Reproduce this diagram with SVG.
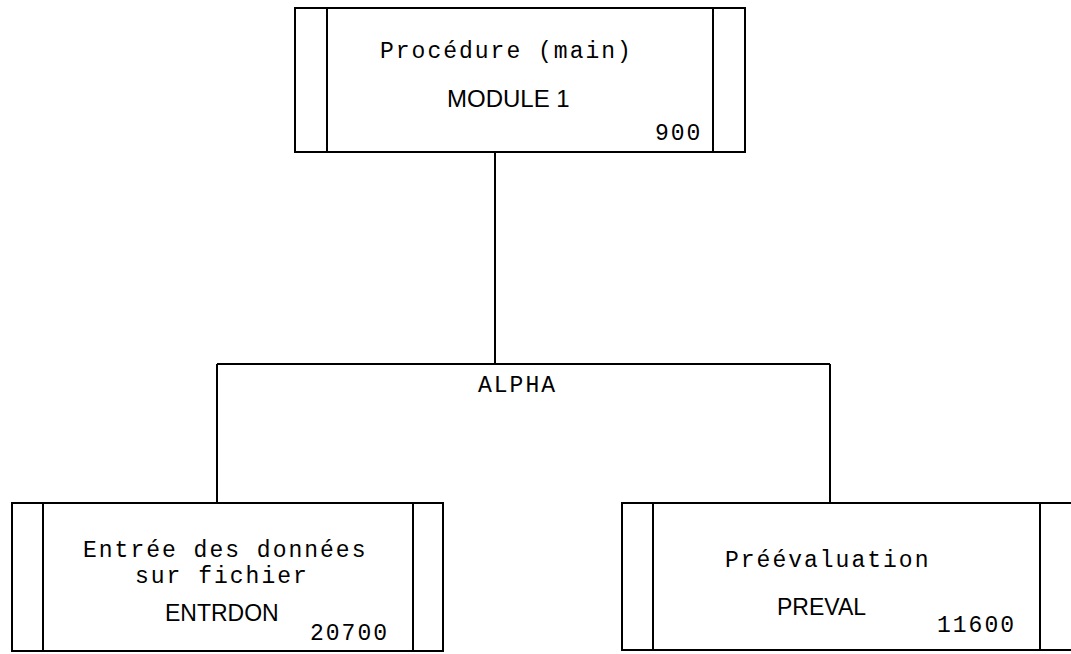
<svg xmlns="http://www.w3.org/2000/svg" width="1071" height="654" viewBox="0 0 1071 654">
<style>
.box{fill:none;stroke:#000;stroke-width:2}
.ln{fill:none;stroke:#000;stroke-width:2}
.mono{font-family:"Liberation Mono","DejaVu Sans Mono",monospace;font-size:23px;letter-spacing:2px;fill:#000}
.sans{font-family:"Liberation Sans","DejaVu Sans",sans-serif;font-size:23px;fill:#000}
</style>
<rect width="1071" height="654" fill="#fff"/>
<g id="connectors">
<path class="ln" d="M495,152 V364 M217,364 H830 M217,364 V503 M830,364 V503"/>
<text class="mono" x="478" y="392">ALPHA</text>
</g>
<g id="module1">
<rect class="box" x="295" y="8" width="450" height="144"/>
<line class="ln" x1="327" y1="8" x2="327" y2="152"/>
<line class="ln" x1="713" y1="8" x2="713" y2="152"/>
<text class="mono" x="380" y="58">Procédure (main)</text>
<text class="sans" x="447" y="107" style="font-size:24px">MODULE 1</text>
<text class="mono" x="655" y="140">900</text>
</g>
<g id="entrdon">
<rect class="box" x="12" y="503" width="431" height="148"/>
<line class="ln" x1="43" y1="503" x2="43" y2="651"/>
<line class="ln" x1="413" y1="503" x2="413" y2="651"/>
<text class="mono" x="83" y="557">Entrée des données</text>
<text class="mono" x="135" y="583">sur fichier</text>
<text class="sans" x="165" y="621">ENTRDON</text>
<text class="mono" x="310" y="640">20700</text>
</g>
<g id="preval">
<rect class="box" x="622" y="503" width="460" height="147"/>
<line class="ln" x1="653" y1="503" x2="653" y2="650"/>
<line class="ln" x1="1040" y1="503" x2="1040" y2="650"/>
<text class="mono" x="725" y="567">Préévaluation</text>
<text class="sans" x="777" y="615">PREVAL</text>
<text class="mono" x="937" y="632">11600</text>
</g>
</svg>
